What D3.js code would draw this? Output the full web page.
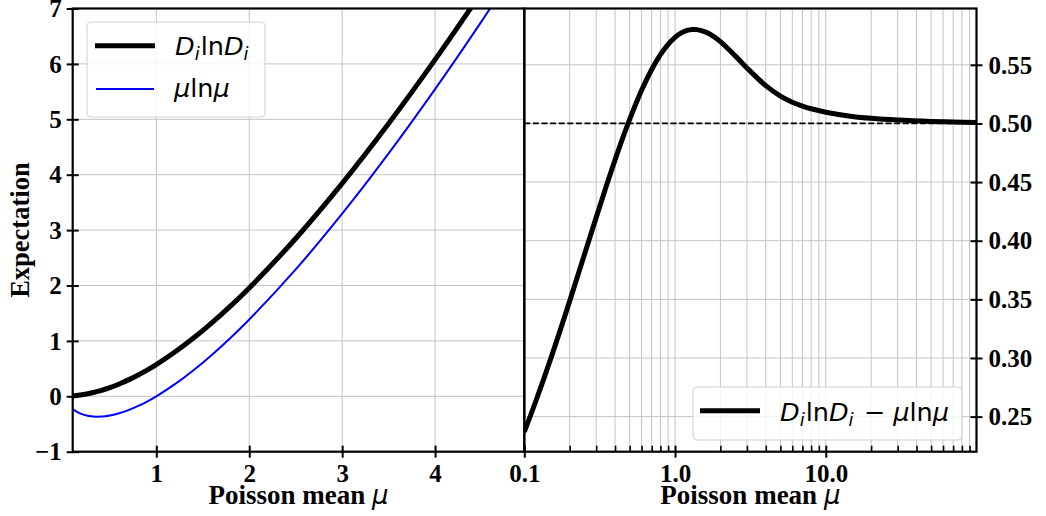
<!DOCTYPE html>
<html><head><meta charset="utf-8">
<script src="https://cdn.jsdelivr.net/npm/d3@7"></script>
<style>body{margin:0;background:#fff} svg{display:block}</style>
</head><body><svg id="c" width="1046" height="516"></svg>
<script>
// ---- data ----
const leftMu = [0.1,0.2,0.3,0.4,0.5,0.6,0.7,0.8,0.9,1.0,1.2,1.4,1.6,1.8,2.0,2.5,3.0,3.5,4.0,4.5,5.0];
const leftDlnD = [0.0068,0.0266,0.0587,0.1024,0.1569,0.2218,0.2964,0.3801,0.4726,0.5734,0.7981,1.0511,1.3299,1.6322,1.9560,2.8486,3.8431,4.9242,6.0774,7.2954,8.5705];
const blueMu = [0.1,0.15,0.2,0.25,0.3,0.35,0.4,0.45,0.5,0.6,0.7,0.8,0.9,1.0,1.2,1.4,1.6,1.8,2.0,2.5,3.0,3.5,4.0,4.5,5.0];
const blueMuLnMu = [-0.2303,-0.2846,-0.3219,-0.3466,-0.3612,-0.3674,-0.3665,-0.3593,-0.3466,-0.3065,-0.2497,-0.1785,-0.0948,0,0.2188,0.4711,0.7520,1.0580,1.3863,2.2907,3.2958,4.3847,5.5452,6.7683,8.0472];
const rightMu = [0.1,0.12,0.15,0.2,0.25,0.3,0.35,0.4,0.45,0.5,0.6,0.7,0.8,0.9,1.0,1.1,1.2,1.3,1.4,1.6,1.8,2.0,2.5,3,4,5,6,7,8,10,15,20,30,50,70,100];
const rightDiff = [0.2370,0.2642,0.2997,0.3485,0.3878,0.4199,0.4466,0.4689,0.4877,0.5035,0.5283,0.5460,0.5587,0.5675,0.5734,0.5772,0.5793,0.5801,0.5800,0.5779,0.5742,0.5697,0.5578,0.5473,0.5322,0.5233,0.5181,0.5148,0.5125,0.5096,0.5060,0.5044,0.5029,0.5017,0.5012,0.5008];
const refLevel = [0.5];
const leftXTicks = [1,2,3,4];
const leftYTicks = [-1,0,1,2,3,4,5,6,7];
const rightXMajor = [0.1,1,10];
const rightXMinor = [0.2,0.3,0.4,0.5,0.6,0.7,0.8,0.9,2,3,4,5,6,7,8,9,20,30,40,50,60,70,80,90];
const rightYTicks = [0.25,0.30,0.35,0.40,0.45,0.50,0.55];

// ---- layout ----
const svg = d3.select("#c");
const L = {x0:72.7, x1:524.3}, R = {x0:524.3, x1:976.5}, yTop = 8.5, yBot = 451.7;
const xL = d3.scaleLinear().domain([0.1,4.96]).range([L.x0,L.x1]);
const yL = d3.scaleLinear().domain([-1,7]).range([yBot,yTop]);
const xR = d3.scaleLog().domain([0.1,100]).range([R.x0,R.x1]);
const yR = d3.scaleLinear().domain([0.2201,0.598]).range([yBot,yTop]);
const serif = "'Liberation Serif','Times New Roman',serif";
const sans = "'DejaVu Sans',sans-serif";
const gridCol = "#c4c4c4";

const defs = svg.append("defs");
defs.append("clipPath").attr("id","clipL").append("rect").attr("x",L.x0).attr("y",yTop).attr("width",L.x1-L.x0).attr("height",yBot-yTop);
defs.append("clipPath").attr("id","clipR").append("rect").attr("x",R.x0).attr("y",yTop).attr("width",R.x1-R.x0).attr("height",yBot-yTop);

// ---- grids ----
const gL = svg.append("g");
gL.selectAll(".gx").data(leftXTicks).join("line").attr("x1",d=>xL(d)).attr("x2",d=>xL(d)).attr("y1",yTop).attr("y2",yBot).attr("stroke",gridCol).attr("stroke-width",1);
gL.selectAll(".gy").data(leftYTicks).join("line").attr("x1",L.x0).attr("x2",L.x1).attr("y1",d=>yL(d)).attr("y2",d=>yL(d)).attr("stroke",gridCol).attr("stroke-width",1);
const gR = svg.append("g");
gR.selectAll(".gx").data(rightXMajor.concat(rightXMinor)).join("line").attr("x1",d=>xR(d)).attr("x2",d=>xR(d)).attr("y1",yTop).attr("y2",yBot).attr("stroke",gridCol).attr("stroke-width",1);
gR.selectAll(".gy").data(rightYTicks).join("line").attr("x1",R.x0).attr("x2",R.x1).attr("y1",d=>yR(d)).attr("y2",d=>yR(d)).attr("stroke",gridCol).attr("stroke-width",1);

// ---- curves ----
const curve = d3.curveCatmullRom.alpha(0.5);
const lineL = d3.line().x(d=>xL(d[0])).y(d=>yL(d[1])).curve(curve);
const lineR = d3.line().x(d=>xR(d[0])).y(d=>yR(d[1])).curve(curve);
const cL = svg.append("g").attr("clip-path","url(#clipL)");
cL.append("path").datum(d3.zip(blueMu,blueMuLnMu)).attr("d",lineL).attr("fill","none").attr("stroke","#0000ff").attr("stroke-width",2);
cL.append("path").datum(d3.zip(leftMu,leftDlnD)).attr("d",lineL).attr("fill","none").attr("stroke","#000").attr("stroke-width",5);
const cR = svg.append("g").attr("clip-path","url(#clipR)");
cR.selectAll(".ref").data(refLevel).join("line").attr("x1",R.x0).attr("x2",R.x1).attr("y1",d=>yR(d)).attr("y2",d=>yR(d)).attr("stroke","#000").attr("stroke-width",1.8).attr("stroke-dasharray","6,2.6");
cR.append("path").datum(d3.zip(rightMu,rightDiff)).attr("d",lineR).attr("fill","none").attr("stroke","#000").attr("stroke-width",5);

// ---- axes ----
function styleAxis(g){ g.select(".domain").remove(); g.selectAll("line").attr("stroke","#000").attr("stroke-width",2); g.selectAll("text").attr("fill","#000").attr("font-family",serif).attr("font-weight","bold").attr("font-size",25); }
const fmtL = d => d<0 ? "\u2212"+Math.abs(d) : String(d);
let ax = svg.append("g").attr("transform",`translate(0,${yBot})`).call(d3.axisBottom(xL).tickValues(leftXTicks).tickFormat(fmtL).tickSize(6));
styleAxis(ax); ax.selectAll(".tick line").attr("y1",-6).attr("y2",6); ax.selectAll(".tick text").attr("y",30).attr("dy",0);
ax = svg.append("g").attr("transform",`translate(${L.x0},0)`).call(d3.axisLeft(yL).tickValues(leftYTicks).tickFormat(fmtL).tickSize(6));
styleAxis(ax); ax.selectAll(".tick line").attr("x1",-6).attr("x2",6); ax.selectAll(".tick text").attr("x",-11).attr("dy","0.33em");
ax = svg.append("g").attr("transform",`translate(0,${yBot})`).call(d3.axisBottom(xR).tickValues(rightXMajor).tickFormat(d3.format(".1f")).tickSize(6));
styleAxis(ax); ax.selectAll(".tick line").attr("y1",-6).attr("y2",6); ax.selectAll(".tick text").attr("y",30).attr("dy",0);
ax = svg.append("g").attr("transform",`translate(0,${yBot})`).call(d3.axisBottom(xR).tickValues(rightXMinor).tickFormat("").tickSize(6));
styleAxis(ax); ax.selectAll(".tick line").attr("y1",-6).attr("y2",0).attr("stroke-width",1.6);
ax = svg.append("g").attr("transform",`translate(${R.x1},0)`).call(d3.axisRight(yR).tickValues(rightYTicks).tickFormat(d3.format(".2f")).tickSize(6));
styleAxis(ax); ax.selectAll(".tick line").attr("x1",-6).attr("x2",6); ax.selectAll(".tick text").attr("x",12).attr("dy","0.33em");

// ---- spines ----
const sp = svg.append("g").attr("fill","none").attr("stroke","#000").attr("stroke-width",2.2);
sp.append("rect").attr("x",L.x0).attr("y",yTop).attr("width",L.x1-L.x0).attr("height",yBot-yTop);
sp.append("rect").attr("x",R.x0).attr("y",yTop).attr("width",R.x1-R.x0).attr("height",yBot-yTop);

// ---- axis labels ----
function xlabel(cx){
  const t = svg.append("text").attr("x",cx).attr("y",504).attr("text-anchor","middle").attr("font-family",serif).attr("font-weight","bold").attr("font-size",27).attr("fill","#000");
  t.append("tspan").text("Poisson mean ");
  t.append("tspan").attr("font-family",sans).attr("font-style","italic").attr("font-weight","normal").attr("font-size",26).text("\u03bc");
}
xlabel((L.x0+L.x1)/2); xlabel((R.x0+R.x1)/2);
svg.append("text").attr("transform",`translate(29,${(yTop+yBot)/2}) rotate(-90)`).attr("text-anchor","middle").attr("font-family",serif).attr("font-weight","bold").attr("font-size",26.5).attr("fill","#000").text("Expectation");

// ---- legends ----
function mathText(g, x, y, parts){
  const t = g.append("text").attr("x",x).attr("y",y).attr("font-family",sans).attr("font-size",25.5).attr("fill","#000");
  parts.forEach(p=>{
    const s = t.append("tspan").text(p.t);
    if(p.i) s.attr("font-style","italic");
    if(p.sub) s.attr("font-size",18).attr("dy",5);
    if(p.up) s.attr("dy",-5);
    if(p.dx) s.attr("dx",p.dx);
  });
}
const dlnd = [{t:"D",i:1},{t:"i",i:1,sub:1},{t:"ln",up:1,dx:1},{t:"D",i:1},{t:"i",i:1,sub:1}];
const legL = svg.append("g");
legL.append("rect").attr("x",87).attr("y",22).attr("width",178).attr("height",95).attr("rx",4).attr("fill","#fff").attr("fill-opacity",0.8).attr("stroke","#d0d0d0").attr("stroke-width",1);
legL.append("line").attr("x1",95).attr("x2",155).attr("y1",45.7).attr("y2",45.7).attr("stroke","#000").attr("stroke-width",5);
legL.append("line").attr("x1",96).attr("x2",154).attr("y1",89).attr("y2",89).attr("stroke","#0000ff").attr("stroke-width",2);
mathText(legL,175,54.5,dlnd);
mathText(legL,174,97,[{t:"\u03bc",i:1},{t:"ln"},{t:"\u03bc",i:1}]);
const legR = svg.append("g");
legR.append("rect").attr("x",693).attr("y",387).attr("width",269).attr("height",53).attr("rx",4).attr("fill","#fff").attr("fill-opacity",0.8).attr("stroke","#d0d0d0").attr("stroke-width",1);
legR.append("line").attr("x1",700).attr("x2",760).attr("y1",410.7).attr("y2",410.7).attr("stroke","#000").attr("stroke-width",5);
mathText(legR,780,420.5,dlnd.concat([{t:" \u2212 ",up:1,dx:2},{t:"\u03bc",i:1},{t:"ln"},{t:"\u03bc",i:1}]));
</script></body></html>
